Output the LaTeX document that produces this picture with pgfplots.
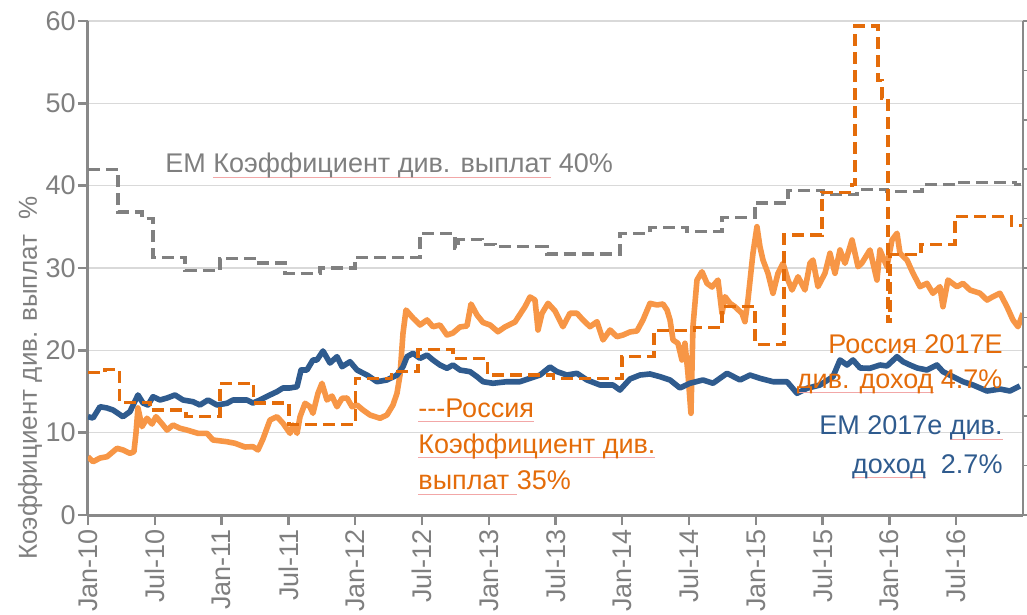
\documentclass[border=0pt]{standalone}
\usepackage{pgfplots}
\pgfplotsset{compat=1.18}
\usepackage{fontspec}
\setmainfont{Liberation Sans}

\definecolor{axgray}{HTML}{898989}
\definecolor{txtgray}{HTML}{7F7F7F}
\definecolor{gridgray}{HTML}{D9D9D9}
\definecolor{emblue}{HTML}{2F5B8E}
\definecolor{ruorange}{HTML}{F79646}
\definecolor{rudark}{HTML}{E46C0A}
\definecolor{emgray}{HTML}{808080}
\definecolor{spell}{HTML}{F2A7A7}
% faint spell-check underline seen in the source
\newcommand{\squig}[1]{\setbox0\hbox{#1}\rlap{\textcolor{spell}{\rule[-2.4pt]{\wd0}{0.45pt}}}\box0\relax}
\newcommand{\lbl}{\fontsize{13.5}{16}\selectfont}

\begin{document}
\begin{tikzpicture}
\begin{axis}[
scale only axis,width=467.5pt,height=247pt,
xmin=0,xmax=84,ymin=0,ymax=60,
axis lines*=left,axis line style={axgray,line width=1.5pt},
tick style={axgray,line width=1.2pt},tick align=outside,major tick length=5pt,
ymajorgrids,grid style={gridgray,line width=0.8pt},
ytick={0,10,...,60},
xtick={0,6,...,78},
xticklabels={Jan-10,Jul-10,Jan-11,Jul-11,Jan-12,Jul-12,Jan-13,Jul-13,Jan-14,Jul-14,Jan-15,Jul-15,Jan-16,Jul-16},
/pgf/number format/assume math mode=true,
font=\lbl,
yticklabel style={txtgray,inner sep=1pt},
xticklabel style={txtgray,rotate=90,anchor=east,inner sep=2pt},
ylabel={Коэффициент див. выплат\ \ \%},
ylabel style={at={(rel axis cs:-0.062,0.277)},anchor=center,txtgray,font=\fontsize{13}{15}\selectfont},
]
\coordinate (O) at (rel axis cs:0,0);

% Russia dividend yield
\addplot[ruorange,line width=2.8pt,line join=round] coordinates {
(0,7.08) (0.45,6.47) (1.08,6.92) (1.71,7.08) (2.25,7.69) (2.61,8.10) (3.14,7.90) (3.77,7.49) (4.13,7.69) (4.31,9.92)
(4.49,13.00) (4.85,10.73) (5.30,11.75) (5.75,11.05) (6.11,11.94) (6.74,10.93) (7.10,10.32) (7.64,10.93) (8.27,10.53) (8.89,10.32)
(9.88,9.92) (10.69,9.92) (11.23,9.11) (12.49,8.90) (13.21,8.71) (14.10,8.26) (14.82,8.30) (15.27,7.90) (15.72,9.23) (16.35,11.54)
(16.98,11.94) (17.52,11.14) (18.15,9.92) (18.42,10.93) (18.78,9.92) (19.05,11.94) (19.50,13.57) (19.94,13.15) (20.21,12.35) (20.66,14.78)
(21.02,16.00) (21.47,13.97) (21.92,14.45) (22.37,13.15) (22.82,14.17) (23.27,14.21) (23.72,13.15) (24.17,13.36) (24.71,12.75) (25.33,12.15)
(26.23,11.75) (26.86,12.15) (27.40,13.36) (27.76,14.78) (28.03,17.00) (28.30,22.07) (28.57,24.90) (29.20,23.93) (29.83,23.08) (30.46,23.69)
(30.99,22.87) (31.62,23.08) (32.25,21.86) (32.79,22.11) (33.42,22.84) (34.05,22.96) (34.41,25.63) (34.95,24.29) (35.49,23.38) (36.12,23.08)
(36.83,22.26) (37.46,22.84) (38.36,23.44) (39.26,25.30) (39.71,26.48) (40.16,26.11) (40.43,22.47) (40.79,24.50) (41.33,25.71) (41.96,24.78)
(42.67,22.87) (43.30,24.50) (43.93,24.50) (44.47,23.69) (45.10,22.87) (45.73,23.48) (46.27,21.26) (46.90,22.47) (47.52,21.66) (48.06,21.86)
(48.69,22.23) (49.32,22.35) (49.86,23.69) (50.49,25.71) (51.12,25.51) (51.66,25.63) (52.02,24.90) (52.29,23.69) (52.56,21.26) (53.00,20.86)
(53.36,18.83) (53.63,20.86) (53.90,17.21) (54.17,12.35) (54.35,22.87) (54.71,28.54) (55.16,29.55) (55.61,28.14) (56.06,27.69) (56.60,28.54)
(56.96,24.50) (57.23,26.52) (57.68,25.71) (58.12,25.30) (58.75,24.50) (59.02,23.48) (59.29,26.11) (59.74,31.79) (60.10,35.02) (60.37,32.59)
(60.64,30.97) (61.09,29.36) (61.54,26.93) (61.99,29.36) (62.44,30.57) (62.89,28.54) (63.25,27.33) (63.79,28.94) (64.41,27.33) (64.86,30.57)
(65.13,30.97) (65.58,27.73) (66.21,29.36) (66.66,31.79) (67.11,29.36) (67.56,32.19) (68.01,30.57) (68.64,33.40) (69.18,30.16) (69.53,30.61)
(70.25,32.19) (70.88,28.54) (71.15,32.19) (71.78,30.16) (72.23,33.40) (72.68,34.22) (72.95,31.79) (73.58,30.97) (74.12,29.36) (74.75,27.73)
(75.37,28.14) (75.91,26.93) (76.54,27.73) (76.81,25.30) (77.26,28.54) (78.07,27.73) (78.61,28.14) (79.24,27.33) (80.14,26.93) (80.77,26.11)
(81.30,26.52) (81.93,26.93) (82.56,25.30) (83.10,23.69) (83.55,22.87) (84.00,24.50)
};

% EM dividend yield
\addplot[emblue,line width=2.8pt,line join=round] coordinates {
(0,11.94) (0.45,11.78) (1.08,13.15) (1.71,13.00) (2.25,12.75) (3.14,11.94) (3.77,12.55) (4.49,14.58) (4.94,13.60) (5.39,13.36)
(5.84,14.37) (6.47,13.97) (7.10,14.21) (7.82,14.58) (8.53,13.97) (9.43,13.76) (10.06,13.36) (10.78,13.97) (11.59,13.36) (12.49,13.57)
(13.03,13.97) (14.28,13.97) (14.82,13.60) (15.45,13.97) (16.35,14.58) (16.98,14.98) (17.52,15.43) (18.15,15.43) (18.78,15.58) (19.14,17.61)
(19.67,17.61) (20.21,18.83) (20.57,18.83) (21.11,19.92) (21.74,18.46) (22.37,19.23) (22.82,18.01) (23.54,18.62) (24.17,17.61) (25.07,17.00)
(25.96,16.19) (26.86,16.40) (27.76,17.00) (28.30,18.01) (28.66,19.23) (29.20,19.64) (29.83,19.03) (30.46,19.43) (30.99,18.83) (31.62,18.22)
(32.25,17.82) (32.79,18.22) (33.42,17.61) (34.32,17.41) (34.95,16.80) (35.49,16.19) (36.38,16.00) (37.64,16.19) (38.81,16.19) (39.71,16.60)
(40.61,17.00) (41.51,17.98) (42.13,17.41) (43.03,17.00) (43.93,17.21) (44.83,16.40) (46.00,15.79) (47.17,15.79) (47.79,15.18) (48.69,16.52)
(49.59,17.00) (50.49,17.13) (51.39,16.80) (52.29,16.40) (53.18,15.43) (54.08,16.00) (55.25,16.40) (56.15,16.00) (57.41,17.21) (58.58,16.40)
(59.47,17.00) (60.37,16.60) (61.54,16.19) (62.80,16.19) (63.70,14.78) (64.59,15.39) (65.76,15.79) (66.93,16.80) (67.56,18.83) (68.19,18.22)
(68.73,18.83) (69.36,17.86) (70.25,17.82) (71.15,18.22) (71.78,18.10) (72.68,19.23) (73.22,18.62) (73.85,18.22) (74.48,17.86) (75.37,17.61)
(76.27,18.22) (76.81,17.41) (77.71,16.80) (78.61,16.19) (79.51,15.79) (80.77,15.06) (81.93,15.30) (82.83,15.06) (83.73,15.67)
};

% EM payout ratio
\addplot[emgray,const plot,line width=1.6pt,dash pattern=on 6pt off 3pt] coordinates {
(0,42.0) (2.7,36.8) (4.85,36.0) (5.84,31.3) (8.71,29.7) (11.86,31.2) (15.18,30.6) (17.7,29.3) (20.85,30.0) (23.99,31.3)
(29.83,34.2) (32.97,32.4) (33.24,33.5) (35.4,32.9) (36.56,32.6) (41.24,31.7) (47.8,34.2) (50.49,34.9) (53.81,34.4) (56.95,36.1)
(59.92,37.9) (62.89,39.4) (66.03,38.9) (69.09,39.5) (71.78,39.3) (74.93,40.1) (78.07,40.4) (83.3,40.1) (83.8,40.1)
};

% Russia payout ratio
\addplot[rudark,const plot,line width=1.6pt,dash pattern=on 6pt off 3pt] coordinates {
(0,17.3) (1.53,17.7) (2.8,13.7) (5.57,12.75) (8.8,11.95) (11.86,16.0) (14.9,13.6) (18.06,11.0) (24.0,16.6) (27.3,17.4)
(29.65,20.1) (32.8,19.0) (35.9,17.0) (41.8,16.6) (47.97,19.3) (50.85,22.4) (54.5,22.8) (56.96,25.3) (59.92,20.7) (62.53,34.0)
(65.94,39.2) (68.64,40.1) (68.9,59.4) (70.97,52.8) (71.33,50.6) (71.87,23.5) (72.05,31.6) (74.84,32.9) (77.9,36.3) (83.0,35.2) (84,35.2)
};

\node[anchor=base west,txtgray,font=\lbl,inner sep=0pt] at (axis cs:6.92,41.54) {ЕМ \squig{Коэффициент див. выплат} 40\%};
\node[anchor=base west,rudark,font=\lbl,inner sep=0pt] at (axis cs:29.65,11.87) {\squig{-{}-{}-Россия}};
\node[anchor=base west,rudark,font=\lbl,inner sep=0pt] at (axis cs:29.65,7.49) {\squig{Коэффициент див.}};
\node[anchor=base west,rudark,font=\lbl,inner sep=0pt] at (axis cs:29.65,3.04) {\squig{выплат }35\%};
\node[anchor=base east,rudark,font=\lbl,inner sep=0pt] at (axis cs:82.2,19.64) {Россия 2017E};
\node[anchor=base east,rudark,font=\lbl,inner sep=0pt] at (axis cs:82.2,15.39) {\squig{див. доход} 4.7\%};
\node[anchor=base east,emblue,font=\lbl,inner sep=0pt] at (axis cs:82.2,9.72) {ЕМ 2017е \squig{див.}};
\node[anchor=base east,emblue,font=\lbl,inner sep=0pt] at (axis cs:82.2,5.06) {\squig{доход}\hspace{7.5pt}2.7\%};
\end{axis}

% right-hand axis: ticks only, labels fall outside the picture
\begin{axis}[
scale only axis,width=467.5pt,height=247pt,
xmin=0,xmax=84,ymin=0,ymax=10,
axis y line*=right,axis x line=none,
ytick={0,1,...,10},yticklabels={},
y axis line style={axgray,line width=0.8pt},
tick style={axgray,line width=0.8pt},tick align=outside,major tick length=4pt,
]
\end{axis}

\pgfresetboundingbox
\path[use as bounding box] ([xshift=-44pt,yshift=-50pt]O) rectangle ++(513.5pt,307.5pt);
\end{tikzpicture}
\end{document}
